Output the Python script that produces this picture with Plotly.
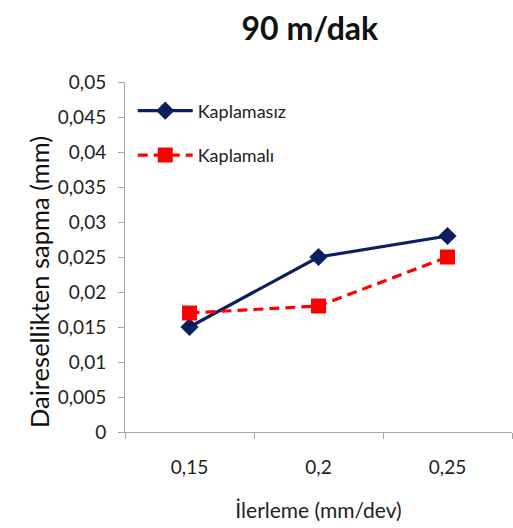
import plotly.graph_objects as go

categories = ["0,15", "0,2", "0,25"]
kaplamasiz = [0.015, 0.025, 0.028]
kaplamali = [0.017, 0.018, 0.025]
y_ticks = [0, 0.005, 0.01, 0.015, 0.02, 0.025, 0.03, 0.035, 0.04, 0.045, 0.05]
y_labels = ["0", "0,005", "0,01", "0,015", "0,02", "0,025", "0,03", "0,035", "0,04", "0,045", "0,05"]

font = "Lato, Open Sans, sans-serif"

fig = go.Figure()
fig.add_trace(go.Scatter(
    x=categories, y=kaplamasiz, name="Kaplamasız", mode="lines+markers",
    line=dict(color="#0B1F5E", width=3.2),
    marker=dict(symbol="diamond", size=14, color="#0B1F5E"),
    legendgroup="a",
))
fig.add_trace(go.Scatter(
    x=categories, y=kaplamali, name="Kaplamalı", mode="lines+markers",
    line=dict(color="#FF0000", width=3.2, dash="10px,6px"),
    marker=dict(symbol="square", size=15, color="#FF0000"),
    legendgroup="b",
))

fig.update_layout(
    width=513, height=528,
    margin=dict(l=125, r=1, t=82, b=96),
    paper_bgcolor="white", plot_bgcolor="white",
    font=dict(family=font, color="#222222", size=18),
    title=dict(text="<b>90 m/dak</b>", x=0.604, xanchor="center", y=0.945, yanchor="middle",
               font=dict(size=32, color="#111111", family=font)),
    legend=dict(x=0.02, y=0.97, xanchor="left", yanchor="top",
                bgcolor="rgba(0,0,0,0)", tracegroupgap=18,
                font=dict(size=18, color="#222222"), itemwidth=55),
    showlegend=True,
    annotations=[dict(
        text="Dairesellikten sapma (mm)", textangle=-90,
        xref="paper", yref="paper", x=0, y=0.4286, xanchor="center", yanchor="middle",
        xshift=-86, showarrow=False,
        font=dict(size=25.5, color="#111111", family=font),
    )],
)
fig.update_xaxes(
    type="category", range=[-0.5, 2.5],
    showline=True, linecolor="#A6A6A6", linewidth=1,
    ticks="outside", tickson="boundaries", ticklen=6, tickcolor="#A6A6A6",
    showgrid=False, zeroline=False,
    tickfont=dict(size=19), ticklabelstandoff=18,
    title=dict(text="İlerleme (mm/dev)", font=dict(size=21), standoff=26),
)
fig.update_yaxes(
    range=[0, 0.05], tickvals=y_ticks, ticktext=y_labels,
    showline=True, linecolor="#A6A6A6", linewidth=1,
    ticks="outside", ticklen=6, tickcolor="#A6A6A6",
    showgrid=False, zeroline=False,
    tickfont=dict(size=19), ticklabelstandoff=8,
)

fig.write_html("out.html")
